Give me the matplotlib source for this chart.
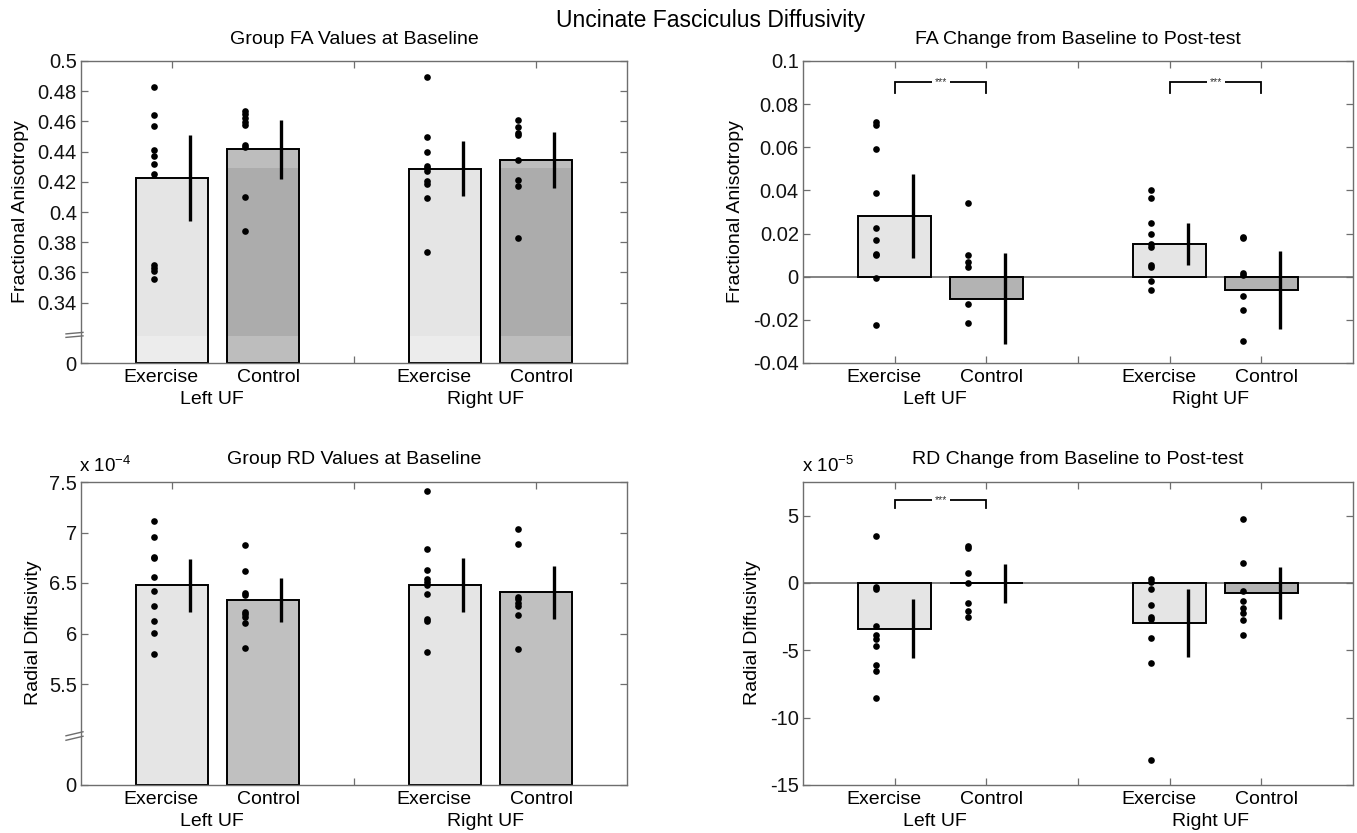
import matplotlib
matplotlib.use('Agg')
import matplotlib.pyplot as plt
import matplotlib.transforms as mtransforms
import numpy as np

plt.rcParams['font.family'] = ['Liberation Sans', 'DejaVu Sans']
plt.rcParams['mathtext.fontset'] = 'custom'
plt.rcParams['mathtext.rm'] = 'Liberation Sans'
plt.rcParams['mathtext.default'] = 'regular'

# ---------------- data ----------------
conditions = ['Exercise', 'Control']
regions = ['Left UF', 'Right UF']
bar_x = [1.0, 1.5, 2.5, 3.0]          # Left-Exercise, Left-Control, Right-Exercise, Right-Control

# FA at baseline
fa_base_means = [0.4226, 0.4415, 0.4287, 0.4345]
fa_base_sem = [0.0284, 0.0195, 0.0182, 0.0187]
fa_base_left_ex = [0.4828, 0.4644, 0.4571, 0.4411, 0.4373, 0.4318, 0.4252, 0.3651, 0.3631, 0.3609, 0.3556]
fa_base_left_ct = [0.4670, 0.4648, 0.4622, 0.4599, 0.4575, 0.4446, 0.4428, 0.4098, 0.3876]
fa_base_right_ex = [0.4897, 0.4494, 0.4395, 0.4307, 0.4292, 0.4274, 0.4208, 0.4186, 0.4094, 0.3735]
fa_base_right_ct = [0.4611, 0.4566, 0.4524, 0.4512, 0.4345, 0.4212, 0.4173, 0.3825]

# FA change
fa_chg_means = [0.0281, -0.0103, 0.0153, -0.0062]
fa_chg_sem = [0.0195, 0.0211, 0.0098, 0.0181]
fa_chg_left_ex = [0.0719, 0.0702, 0.0594, 0.0390, 0.0227, 0.0170, 0.0105, 0.0099, -0.0006, -0.0224]
fa_chg_left_ct = [0.0341, 0.0100, 0.0069, 0.0043, -0.0125, -0.0216]
fa_chg_right_ex = [0.0401, 0.0364, 0.0251, 0.0197, 0.0150, 0.0139, 0.0052, 0.0045, -0.0020, -0.0060]
fa_chg_right_ct = [0.0185, 0.0179, 0.0015, 0.0008, -0.0091, -0.0154, -0.0299]

# RD at baseline (x 1e-4)
rd_base_means = [6.477, 6.332, 6.483, 6.407]
rd_base_sem = [0.264, 0.218, 0.268, 0.264]
rd_base_left_ex = [7.114, 6.955, 6.760, 6.750, 6.562, 6.424, 6.272, 6.127, 6.008, 5.794]
rd_base_left_ct = [6.876, 6.616, 6.404, 6.381, 6.213, 6.190, 6.166, 6.101, 5.853]
rd_base_right_ex = [7.411, 6.833, 6.628, 6.535, 6.512, 6.479, 6.393, 6.139, 6.126, 5.815]
rd_base_right_ct = [7.034, 6.882, 6.357, 6.337, 6.301, 6.274, 6.182, 5.848]

# RD change (x 1e-5)
rd_chg_means = [-3.38, -0.02, -2.99, -0.72]
rd_chg_sem = [2.18, 1.43, 2.54, 1.92]
rd_chg_left_ex = [3.51, -0.32, -0.47, -3.18, -3.83, -4.13, -4.68, -6.09, -6.54, -8.53]
rd_chg_left_ct = [2.74, 2.59, 0.75, -0.02, -1.52, -2.09, -2.54]
rd_chg_right_ex = [0.27, 0.07, -0.42, -1.62, -2.56, -2.71, -4.08, -5.92, -13.18]
rd_chg_right_ct = [4.73, 1.52, -0.57, -1.34, -1.82, -2.26, -2.76, -3.88]

fa_base_ticks = [0.30, 0.34, 0.36, 0.38, 0.40, 0.42, 0.44, 0.46, 0.48, 0.50]
fa_base_ticklabels = ['0', '0.34', '0.36', '0.38', '0.4', '0.42', '0.44', '0.46', '0.48', '0.5']
fa_chg_ticks = [-0.04, -0.02, 0.0, 0.02, 0.04, 0.06, 0.08, 0.10]
fa_chg_ticklabels = ['-0.04', '-0.02', '0', '0.02', '0.04', '0.06', '0.08', '0.1']
rd_base_ticks = [4.5, 5.5, 6.0, 6.5, 7.0, 7.5]
rd_base_ticklabels = ['0', '5.5', '6', '6.5', '7', '7.5']
rd_chg_ticks = [-15, -10, -5, 0, 5]
rd_chg_ticklabels = ['-15', '-10', '-5', '0', '5']

# ---------------- style ----------------
W, H = 1357, 833
fig = plt.figure(figsize=(W / 100, H / 100), dpi=100)
SPINE = '#6e6e6e'
EX_COL = '#e5e5e5'
FS = 14


def px_axes(left, top, right, bottom):
    return fig.add_axes([left / W, 1 - bottom / H, (right - left) / W, (bottom - top) / H])


def style_axes(ax, xticks, yticks, yticklabels, ylim):
    ax.set_xlim(0.5, 3.5)
    ax.set_ylim(*ylim)
    ax.set_xticks(xticks)
    ax.set_xticklabels([])
    ax.set_yticks(yticks)
    ax.set_yticklabels(yticklabels)
    ax.set_axisbelow(True)
    ax.tick_params(direction='in', top=True, right=True, length=5, width=0.9,
                   color=SPINE, labelcolor='#111111', pad=3)
    ax.tick_params(axis='y', labelsize=14.5)
    for s in ax.spines.values():
        s.set_color(SPINE)
        s.set_linewidth(1.0)
        s.set_zorder(6)
    trans = mtransforms.blended_transform_factory(ax.transData, ax.transAxes)
    for i, x in enumerate(bar_x):
        ax.text(x - 0.06 if i % 2 == 0 else x + 0.03, -15 / 303, conditions[i % 2],
                transform=trans, ha='center', va='center', fontsize=FS)
    for g, xc in zip(regions, [1.22, 2.725]):
        ax.text(xc, -37 / 303, g, transform=trans, ha='center', va='center', fontsize=FS)


def draw_bars(ax, means, ctrl_col, base=0.0):
    cols = [EX_COL, ctrl_col, EX_COL, ctrl_col]
    heights = [m - base for m in means]
    ax.bar(bar_x, heights, bottom=base, width=0.4, color=cols, edgecolor='none', zorder=2)


def finish_bars(ax, means, sems, points, base=0.0):
    heights = [m - base for m in means]
    ax.bar(bar_x, heights, bottom=base, width=0.4, fill=False, edgecolor='black',
           linewidth=1.4, zorder=3)
    ax.errorbar([x + 0.1 for x in bar_x], means, yerr=sems, fmt='none', ecolor='black',
                elinewidth=2.4, capsize=0, zorder=4)
    for x, pts in zip(bar_x, points):
        ax.plot([x - 0.1] * len(pts), pts, 'o', color='black', markersize=4.8,
                markeredgewidth=0, zorder=5)


def sig_bracket(ax, x0, x1, ytop, ybot):
    ax.plot([x0, x0, x1, x1], [ybot, ytop, ytop, ybot], color='black', lw=1.3, zorder=4,
            solid_joinstyle='miter')
    ax.text((x0 + x1) / 2, ytop, '***', ha='center', va='center', fontsize=7.5,
            color='#333333', zorder=5,
            bbox=dict(facecolor='white', edgecolor='none', pad=2.0))


def break_mark(ax, ydata, dx_px, dy_px, gap_px):
    trans = mtransforms.blended_transform_factory(ax.transAxes, ax.transData)
    ax_h = ax.get_position().height * H
    ylo, yhi = ax.get_ylim()
    per_px = (yhi - ylo) / ax_h
    ax_w = ax.get_position().width * W
    for k in (-0.5, 0.5):
        yc = ydata + k * gap_px * per_px
        ax.plot([-dx_px / ax_w, 2 / ax_w],
                [yc - dy_px * per_px * (dx_px / (dx_px + 2)), yc + dy_px * per_px * (2 / (dx_px + 2))],
                transform=trans, color=SPINE, lw=1.0, clip_on=False, zorder=7)


# ---------- panel 1: FA baseline ----------
ax1 = px_axes(81, 61, 627, 363)
style_axes(ax1, [1, 2, 3], fa_base_ticks, fa_base_ticklabels, (0.30, 0.50))
draw_bars(ax1, fa_base_means, '#bdbdbd', base=0.30)
# subtle shading bands visible inside the bars of the reference image
ax1.bar([bar_x[0], bar_x[2]], [0.018, 0.018], bottom=0.30, width=0.4, color='#ececec', zorder=2.1)
ax1.bar([bar_x[1], bar_x[3]], [0.429 - 0.318] * 2, bottom=0.318, width=0.4, color='#acacac', zorder=2.1)
finish_bars(ax1, fa_base_means, fa_base_sem,
            [fa_base_left_ex, fa_base_left_ct, fa_base_right_ex, fa_base_right_ct], base=0.30)
break_mark(ax1, 0.319, 15, 1.5, 3.5)
ax1.text(0.5, 1 + 22 / 303, 'Group FA Values at Baseline', transform=ax1.transAxes,
         ha='center', va='center', fontsize=FS)
fig.text(21 / W, 1 - 212 / H, 'Fractional Anisotropy', rotation=90, ha='center', va='center', fontsize=FS)

# ---------- panel 2: FA change ----------
ax2 = px_axes(803, 61, 1353, 363)
style_axes(ax2, [1, 1.5, 2, 2.5, 3], fa_chg_ticks, fa_chg_ticklabels, (-0.04, 0.10))
ax2.axhline(0, color=SPINE, lw=1.2, zorder=1.5)
draw_bars(ax2, fa_chg_means, '#b3b3b3')
finish_bars(ax2, fa_chg_means, fa_chg_sem,
            [fa_chg_left_ex, fa_chg_left_ct, fa_chg_right_ex, fa_chg_right_ct])
sig_bracket(ax2, 1.0, 1.5, 0.0903, 0.0851)
sig_bracket(ax2, 2.5, 3.0, 0.0903, 0.0851)
ax2.text(0.5, 1 + 22 / 303, 'FA Change from Baseline to Post-test', transform=ax2.transAxes,
         ha='center', va='center', fontsize=FS)
fig.text(736 / W, 1 - 212 / H, 'Fractional Anisotropy', rotation=90, ha='center', va='center', fontsize=FS)

# ---------- panel 3: RD baseline ----------
ax3 = px_axes(81, 482, 627, 785)
style_axes(ax3, [1, 2, 3], rd_base_ticks, rd_base_ticklabels, (4.5, 7.5))
draw_bars(ax3, rd_base_means, '#c0c0c0', base=4.5)
finish_bars(ax3, rd_base_means, rd_base_sem,
            [rd_base_left_ex, rd_base_left_ct, rd_base_right_ex, rd_base_right_ct], base=4.5)
break_mark(ax3, 5.0, 15, 4.0, 4.5)
ax3.text(0.5, 1 + 23 / 303, 'Group RD Values at Baseline', transform=ax3.transAxes,
         ha='center', va='center', fontsize=FS)
fig.text(79 / W, 1 - 466 / H, r'x 10$^{-4}$', ha='left', va='center', fontsize=13.5)
fig.text(33 / W, 1 - 633 / H, 'Radial Diffusivity', rotation=90, ha='center', va='center', fontsize=FS)

# ---------- panel 4: RD change ----------
ax4 = px_axes(803, 482, 1353, 785)
style_axes(ax4, [1, 1.5, 2, 2.5, 3], rd_chg_ticks, rd_chg_ticklabels, (-15, 7.5))
ax4.axhline(0, color=SPINE, lw=1.2, zorder=1.5)
draw_bars(ax4, rd_chg_means, '#b3b3b3')
finish_bars(ax4, rd_chg_means, rd_chg_sem,
            [rd_chg_left_ex, rd_chg_left_ct, rd_chg_right_ex, rd_chg_right_ct])
sig_bracket(ax4, 1.0, 1.5, 6.19, 5.57)
ax4.text(0.5, 1 + 23 / 303, 'RD Change from Baseline to Post-test', transform=ax4.transAxes,
         ha='center', va='center', fontsize=FS)
fig.text(802 / W, 1 - 466 / H, r'x 10$^{-5}$', ha='left', va='center', fontsize=13.5)
fig.text(753 / W, 1 - 633 / H, 'Radial Diffusivity', rotation=90, ha='center', va='center', fontsize=FS)

# main title
fig.text(711 / W, 1 - 21 / H, 'Uncinate Fasciculus Diffusivity', ha='center', va='center', fontsize=16.5)

fig.savefig('out.png', dpi=100, facecolor='white')
